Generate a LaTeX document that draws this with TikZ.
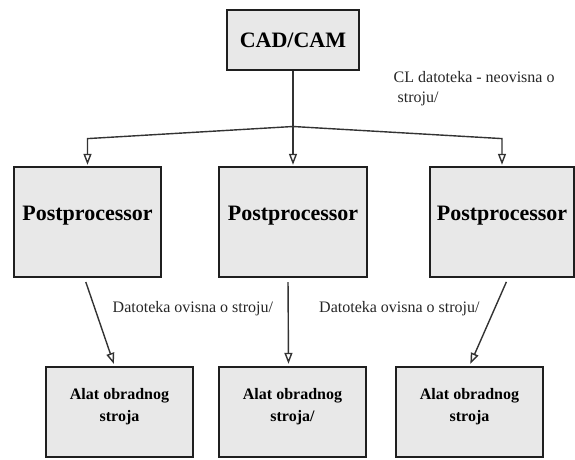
\documentclass[tikz,border=0pt]{standalone}
\usepackage{fontspec}
\setmainfont{LiberationSerif}[Extension=.ttf, UprightFont=*-Regular, BoldFont=*-Bold]
\usetikzlibrary{positioning, arrows.meta}

\begin{document}
\begin{tikzpicture}[x=1pt, y=1pt, >={Triangle[open, width=8pt, length=11pt]},
    box/.style={draw=black!88, line width=2.4pt, fill=black!9, inner sep=0pt},
    proc/.style={box, minimum width=146pt, minimum height=110pt, text depth=17pt,
      font=\fontsize{22}{26}\selectfont\bfseries},
    tool/.style={box, minimum width=147pt, minimum height=90pt},
    tooltext/.style={align=center, inner sep=0pt, font=\fontsize{16}{22}\selectfont\bfseries},
    note/.style={inner sep=0pt, font=\fontsize{16}{20}\selectfont, text=black!85},
    link/.style={draw=black!80, line width=1.4pt}]
  \useasboundingbox (0,0) rectangle (575,459);

  \node[box, minimum width=132pt, minimum height=60pt, font=\fontsize{22}{26}\selectfont\bfseries] (cad) at (293,419) {CAD/CAM};
  \node[note, anchor=north west, align=left] (cl) at (393.5,387.5) {CL datoteka - neovisna o\\\hspace{4pt}stroju/};

  \node[proc, minimum width=147pt] (pp1) at (87.5,237) {Postprocessor};
  \node[proc, minimum width=148pt] (pp2) at (293,237) {Postprocessor};
  \node[proc, minimum width=144pt] (pp3) at (502,237) {Postprocessor};

  \node[tool] (al1) at (119.5,47) {};
  \node[tool] (al2) at (292.5,47) {};
  \node[tool] (al3) at (469.5,47) {};
  \node[tooltext, below=22pt of al1.north] (al1t) {Alat obradnog\\stroja};
  \node[tooltext, below=22pt of al2.north] (al2t) {Alat obradnog\\stroja/};
  \node[tooltext, below=22pt of al3.north] (al3t) {Alat obradnog\\stroja};

  \node[note, anchor=base west] (dat1) at (112.5,147) {Datoteka ovisna o stroju/};
  \node[note, anchor=base west] (dat2) at (319,147) {Datoteka ovisna o stroju/};

  \coordinate (split) at (cad.south |- 0,332.5);
  \coordinate (bendL) at (pp1.north |- 0,320.4);
  \coordinate (bendR) at (pp3.north |- 0,320.4);

  \draw[link] (cad) -- (split);
  \draw[link, ->, shorten >=1pt] (split) -- (pp2.north);
  \draw[link, ->, shorten >=1pt] (split) -- (bendL) -- (pp1.north);
  \draw[link, ->, shorten >=1pt] (split) -- (bendR) -- (pp3.north);

  \draw[link, ->, shorten <=4pt, shorten >=2pt] ([xshift=-3pt]pp1.south) -- ([xshift=-5pt]al1.north);
  \draw[link, ->, shorten <=4pt, shorten >=2pt] ([xshift=-5pt]pp2.south) -- ([xshift=-4pt]al2.north);
  \draw[link, ->, shorten <=4pt, shorten >=2pt] ([xshift=6pt]pp3.south) -- (al3.north);
\end{tikzpicture}
\end{document}
